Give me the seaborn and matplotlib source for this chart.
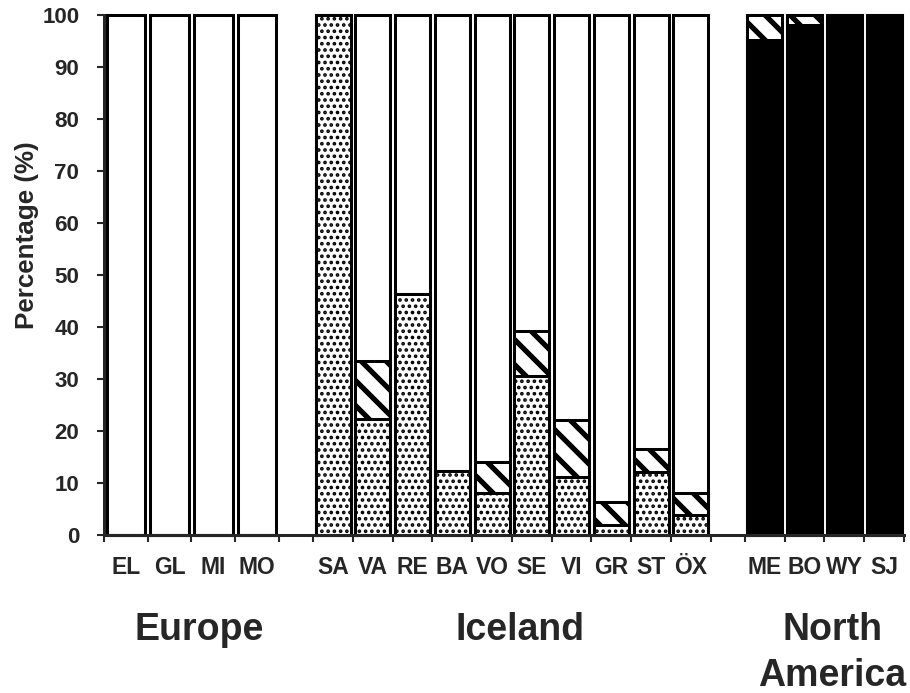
import matplotlib
matplotlib.use("Agg")
import numpy as np
import pandas as pd
import matplotlib.pyplot as plt
import matplotlib.transforms as mtransforms
from matplotlib.ticker import NullFormatter
import seaborn as sns

# --- data (percent of each site) ---
sites = ["EL", "GL", "MI", "MO",
         "SA", "VA", "RE", "BA", "VO", "SE", "VI", "GR", "ST", "ÖX",
         "ME", "BO", "WY", "SJ"]
regions = ["Europe"] * 4 + ["Iceland"] * 10 + ["North\nAmerica"] * 4
region_names = ["Europe", "Iceland", "North\nAmerica"]

stippled = [0, 0, 0, 0,
            100, 22.3, 46.3, 12.3, 8.1, 30.5, 11.1, 1.9, 12.2, 3.8,
            0, 0, 0, 0]
hatched = [0, 0, 0, 0,
           0, 11.2, 0, 0, 5.9, 8.7, 11.1, 4.5, 4.3, 4.3,
           4.8, 1.9, 0, 0]
black = [0, 0, 0, 0,
         0, 0, 0, 0, 0, 0, 0, 0, 0, 0,
         95.2, 98.1, 100, 100]
yticks = [0, 10, 20, 30, 40, 50, 60, 70, 80, 90, 100]

# --- layout ---
slot_width = {"Europe": 1.10, "Iceland": 1.0, "North\nAmerica": 1.0}
gap_width = 0.86
bar_fill = 0.88
edge_lw = 2.9

sns.set_style("ticks")
plt.rcParams["font.family"] = ["Liberation Sans", "DejaVu Sans"]
plt.rcParams["font.weight"] = "bold"

# slot positions along the x axis (with an empty slot between regions)
centers, edges = [], [0.0]
pos, prev = 0.0, None
for r in regions:
    if prev is not None and r != prev:
        pos += gap_width
        edges.append(pos)
    w = slot_width[r]
    centers.append(pos + w / 2)
    pos += w
    edges.append(pos)
    prev = r
x_end = pos

df = pd.DataFrame({"site": sites, "region": regions, "x": centers,
                   "stippled": stippled, "hatched": hatched, "black": black})
df["base"] = df["stippled"] + df["black"]
df["mid"] = df["base"] + df["hatched"]
df["full"] = 100.0

# layers drawn back to front: (column, fill, hatch, hatch linewidth)
layers = [("full", "white", None, 1.0),
          ("mid", "white", "\\", 5.0),
          ("stippled", "white", "..", 2.3),
          ("black", "black", None, 1.0)]

fig = plt.figure(figsize=(910 / 75, 693 / 75), dpi=75)
ax = fig.add_axes([104 / 910, 1 - 535 / 693, 800 / 910, 520 / 693])

for r in region_names:
    sub = df[df["region"] == r]
    for col, fill, hatch, hlw in layers:
        n_before = len(ax.patches)
        with plt.rc_context({"hatch.linewidth": hlw}):
            sns.barplot(data=sub, x="x", y=col, native_scale=True,
                        width=bar_fill, color=fill, saturation=1,
                        edgecolor="black", linewidth=edge_lw, hatch=hatch,
                        errorbar=None, ax=ax)
        for p in ax.patches[n_before:]:
            if hasattr(p, "set_hatch_linewidth"):
                p.set_hatch_linewidth(hlw)

for p in ax.patches:
    p.set_clip_on(False)

ax.set_xlim(0, x_end)
ax.set_ylim(0, 100)
ax.set_yticks(yticks)
ax.set_xticks(edges)
ax.xaxis.set_major_formatter(NullFormatter())
ax.set_xticks(centers, minor=True)
ax.set_xticklabels(sites, minor=True, fontsize=22, fontweight="bold")
ax.tick_params(axis="x", which="minor", length=0, pad=20)
ax.tick_params(axis="x", which="major", length=6.7, width=2, direction="out")
ax.tick_params(axis="y", length=6.7, width=2, direction="out", pad=17,
               labelsize=21.5)
for lab in ax.get_yticklabels():
    lab.set_fontweight("bold")

sns.despine(ax=ax)
for s in ("left", "bottom"):
    ax.spines[s].set_linewidth(2.9)

ax.set_xlabel("")
ax.set_ylabel("Percentage (%)", fontsize=25, fontweight="bold")
ax.yaxis.set_label_coords(-0.081, 0.577)

# region names under the site labels (baseline of the first line at y=-0.202)
line_gap = 46 / 520
trans = mtransforms.blended_transform_factory(ax.transData, ax.transAxes)
for r in region_names:
    xs = df.loc[df["region"] == r, "x"]
    n_lines = r.count("\n") + 1
    ax.text((xs.min() + xs.max()) / 2 + 0.2, -0.2019 - (n_lines - 1) * line_gap,
            r, transform=trans, ha="center", va="baseline", fontsize=36,
            fontweight="bold", linespacing=1.34)

fig.savefig("out.png", dpi=75)
